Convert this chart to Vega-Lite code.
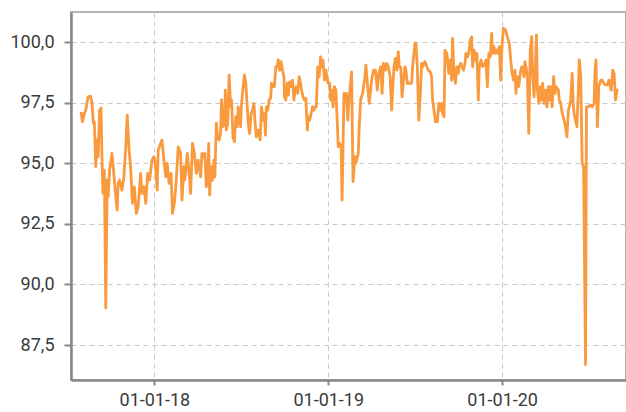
{
"$schema": "https://vega.github.io/schema/vega-lite/v6.json",
"width": 555,
"height": 368,
"autosize": {"type": "none"},
"padding": {"left": 71, "top": 12, "right": 0, "bottom": 32},
"background": "white",
"config": {
  "locale": {"number": {"decimal": ",", "thousands": ".", "grouping": [3], "currency": ["", " €"]}},
  "view": {"stroke": "#9a9a9a", "strokeWidth": 1.5},
  "axis": {
    "domainColor": "#878787", "domainWidth": 2.5,
    "tickColor": "#878787", "tickWidth": 2,
    "gridColor": "#c8c8c8", "gridDash": [5, 4], "gridWidth": 1,
    "labelFont": "Roboto", "labelFontSize": 18, "labelColor": "#3a3a3a",
    "title": null
  }
},
"data": {"values": [
{"date":"2017-07-31","value":97.12},{"date":"2017-08-03","value":96.71},{"date":"2017-08-07","value":97.06},{"date":"2017-08-10","value":97.19},
{"date":"2017-08-13","value":97.54},{"date":"2017-08-15","value":97.74},{"date":"2017-08-20","value":97.77},{"date":"2017-08-23","value":97.47},
{"date":"2017-08-26","value":96.65},{"date":"2017-08-28","value":96.71},{"date":"2017-08-31","value":94.86},{"date":"2017-09-03","value":95.96},
{"date":"2017-09-05","value":95.27},{"date":"2017-09-08","value":97.19},{"date":"2017-09-11","value":97.28},{"date":"2017-09-13","value":95.27},
{"date":"2017-09-15","value":93.77},{"date":"2017-09-18","value":94.72},{"date":"2017-09-21","value":89.03},{"date":"2017-09-24","value":94.31},
{"date":"2017-09-26","value":93.62},{"date":"2017-09-29","value":94.72},{"date":"2017-10-04","value":95.41},{"date":"2017-10-06","value":95.01},
{"date":"2017-10-09","value":94.31},{"date":"2017-10-12","value":93.62},{"date":"2017-10-15","value":93.07},{"date":"2017-10-17","value":94.17},
{"date":"2017-10-20","value":94.31},{"date":"2017-10-25","value":93.89},{"date":"2017-10-29","value":94.44},{"date":"2017-11-02","value":95.68},
{"date":"2017-11-05","value":96.99},{"date":"2017-11-09","value":95.54},{"date":"2017-11-12","value":94.86},{"date":"2017-11-16","value":93.35},
{"date":"2017-11-20","value":94.03},{"date":"2017-11-24","value":92.93},{"date":"2017-11-28","value":93.21},{"date":"2017-12-03","value":94.58},
{"date":"2017-12-06","value":93.76},{"date":"2017-12-10","value":94.03},{"date":"2017-12-14","value":93.35},{"date":"2017-12-18","value":94.58},
{"date":"2017-12-22","value":94.31},{"date":"2017-12-27","value":95.13},{"date":"2017-12-31","value":95.27},{"date":"2018-01-03","value":95.0},
{"date":"2018-01-07","value":93.89},{"date":"2018-01-09","value":95.54},{"date":"2018-01-14","value":95.82},{"date":"2018-01-17","value":95.96},
{"date":"2018-01-21","value":95.13},{"date":"2018-01-25","value":94.44},{"date":"2018-01-28","value":95.0},{"date":"2018-02-01","value":94.17},
{"date":"2018-02-05","value":94.58},{"date":"2018-02-08","value":92.93},{"date":"2018-02-12","value":93.35},{"date":"2018-02-16","value":94.31},
{"date":"2018-02-20","value":95.68},{"date":"2018-02-25","value":95.41},{"date":"2018-02-28","value":93.48},{"date":"2018-03-04","value":94.86},
{"date":"2018-03-06","value":94.31},{"date":"2018-03-11","value":95.41},{"date":"2018-03-15","value":94.58},{"date":"2018-03-18","value":93.76},
{"date":"2018-03-22","value":95.82},{"date":"2018-03-26","value":95.41},{"date":"2018-03-30","value":94.58},{"date":"2018-04-03","value":95.13},
{"date":"2018-04-08","value":94.44},{"date":"2018-04-11","value":95.41},{"date":"2018-04-15","value":95.27},{"date":"2018-04-17","value":95.41},
{"date":"2018-04-20","value":94.03},{"date":"2018-04-23","value":94.44},{"date":"2018-04-25","value":95.82},{"date":"2018-04-27","value":93.69},
{"date":"2018-04-30","value":94.86},{"date":"2018-05-03","value":94.31},{"date":"2018-05-06","value":95.13},{"date":"2018-05-08","value":94.44},
{"date":"2018-05-11","value":96.65},{"date":"2018-05-14","value":96.09},{"date":"2018-05-17","value":95.96},{"date":"2018-05-20","value":96.23},
{"date":"2018-05-22","value":97.61},{"date":"2018-05-25","value":96.51},{"date":"2018-05-28","value":96.65},{"date":"2018-05-30","value":98.02},
{"date":"2018-06-01","value":96.37},{"date":"2018-06-04","value":96.65},{"date":"2018-06-07","value":98.64},{"date":"2018-06-10","value":97.33},
{"date":"2018-06-12","value":97.61},{"date":"2018-06-15","value":96.09},{"date":"2018-06-18","value":95.89},{"date":"2018-06-21","value":96.92},
{"date":"2018-06-24","value":96.51},{"date":"2018-06-26","value":97.33},{"date":"2018-07-01","value":96.51},{"date":"2018-07-03","value":97.47},
{"date":"2018-07-06","value":98.09},{"date":"2018-07-09","value":98.64},{"date":"2018-07-12","value":98.30},{"date":"2018-07-15","value":97.33},
{"date":"2018-07-17","value":96.65},{"date":"2018-07-20","value":96.23},{"date":"2018-07-23","value":97.06},{"date":"2018-07-26","value":97.19},
{"date":"2018-07-29","value":97.47},{"date":"2018-07-31","value":96.78},{"date":"2018-08-03","value":96.09},{"date":"2018-08-07","value":96.37},
{"date":"2018-08-11","value":95.96},{"date":"2018-08-14","value":97.33},{"date":"2018-08-17","value":96.78},{"date":"2018-08-20","value":97.06},
{"date":"2018-08-22","value":96.16},{"date":"2018-08-24","value":97.33},{"date":"2018-08-27","value":97.19},{"date":"2018-08-30","value":97.61},
{"date":"2018-09-02","value":97.68},{"date":"2018-09-04","value":98.30},{"date":"2018-09-07","value":98.16},{"date":"2018-09-10","value":98.16},
{"date":"2018-09-13","value":98.98},{"date":"2018-09-16","value":98.98},{"date":"2018-09-18","value":99.26},{"date":"2018-09-21","value":98.84},
{"date":"2018-09-24","value":99.19},{"date":"2018-09-27","value":98.84},{"date":"2018-09-30","value":98.57},{"date":"2018-10-01","value":97.74},
{"date":"2018-10-04","value":97.61},{"date":"2018-10-07","value":98.30},{"date":"2018-10-09","value":97.81},{"date":"2018-10-12","value":98.36},
{"date":"2018-10-15","value":98.16},{"date":"2018-10-18","value":98.43},{"date":"2018-10-21","value":97.61},{"date":"2018-10-23","value":97.95},
{"date":"2018-10-26","value":98.16},{"date":"2018-10-29","value":97.88},{"date":"2018-11-01","value":98.57},{"date":"2018-11-04","value":98.30},
{"date":"2018-11-06","value":98.02},{"date":"2018-11-09","value":97.74},{"date":"2018-11-12","value":97.61},{"date":"2018-11-15","value":97.68},
{"date":"2018-11-18","value":96.37},{"date":"2018-11-20","value":96.92},{"date":"2018-11-23","value":96.78},{"date":"2018-11-26","value":97.06},
{"date":"2018-11-29","value":97.33},{"date":"2018-12-02","value":97.19},{"date":"2018-12-04","value":97.33},{"date":"2018-12-07","value":97.33},
{"date":"2018-12-10","value":98.98},{"date":"2018-12-13","value":98.57},{"date":"2018-12-16","value":99.39},{"date":"2018-12-18","value":98.98},
{"date":"2018-12-21","value":99.26},{"date":"2018-12-24","value":98.43},{"date":"2018-12-27","value":98.84},{"date":"2018-12-30","value":98.43},
{"date":"2019-01-01","value":98.30},{"date":"2019-01-04","value":98.30},{"date":"2019-01-06","value":97.61},{"date":"2019-01-08","value":98.02},
{"date":"2019-01-11","value":97.33},{"date":"2019-01-14","value":98.16},{"date":"2019-01-17","value":98.02},{"date":"2019-01-20","value":96.65},
{"date":"2019-01-22","value":95.68},{"date":"2019-01-25","value":95.82},{"date":"2019-01-28","value":95.68},{"date":"2019-01-30","value":93.48},
{"date":"2019-02-01","value":95.68},{"date":"2019-02-03","value":97.88},{"date":"2019-02-05","value":97.61},{"date":"2019-02-08","value":97.88},
{"date":"2019-02-11","value":96.78},{"date":"2019-02-14","value":97.74},{"date":"2019-02-19","value":98.77},{"date":"2019-02-22","value":94.24},
{"date":"2019-02-26","value":95.27},{"date":"2019-02-28","value":95.0},{"date":"2019-03-05","value":95.41},{"date":"2019-03-07","value":96.51},
{"date":"2019-03-10","value":97.61},{"date":"2019-03-14","value":97.88},{"date":"2019-03-19","value":98.57},{"date":"2019-03-21","value":99.05},
{"date":"2019-03-26","value":97.88},{"date":"2019-03-28","value":97.47},{"date":"2019-04-02","value":98.43},{"date":"2019-04-06","value":98.84},
{"date":"2019-04-10","value":98.84},{"date":"2019-04-14","value":98.02},{"date":"2019-04-17","value":98.71},{"date":"2019-04-21","value":98.98},
{"date":"2019-04-24","value":97.88},{"date":"2019-04-27","value":99.12},{"date":"2019-05-01","value":98.84},{"date":"2019-05-04","value":99.12},
{"date":"2019-05-07","value":98.98},{"date":"2019-05-11","value":98.57},{"date":"2019-05-14","value":97.19},{"date":"2019-05-16","value":98.02},
{"date":"2019-05-19","value":98.98},{"date":"2019-05-22","value":99.33},{"date":"2019-05-25","value":98.84},{"date":"2019-05-28","value":99.60},
{"date":"2019-05-30","value":98.98},{"date":"2019-06-02","value":98.98},{"date":"2019-06-05","value":97.74},{"date":"2019-06-08","value":98.43},
{"date":"2019-06-11","value":98.98},{"date":"2019-06-13","value":98.84},{"date":"2019-06-16","value":98.30},{"date":"2019-06-20","value":98.30},
{"date":"2019-06-25","value":98.30},{"date":"2019-06-27","value":98.98},{"date":"2019-07-02","value":99.95},{"date":"2019-07-04","value":99.95},
{"date":"2019-07-07","value":98.98},{"date":"2019-07-10","value":96.78},{"date":"2019-07-13","value":97.74},{"date":"2019-07-16","value":99.12},
{"date":"2019-07-18","value":98.98},{"date":"2019-07-23","value":99.19},{"date":"2019-07-27","value":98.98},{"date":"2019-07-30","value":98.84},
{"date":"2019-08-03","value":98.77},{"date":"2019-08-06","value":98.57},{"date":"2019-08-08","value":97.61},{"date":"2019-08-11","value":97.19},
{"date":"2019-08-14","value":96.71},{"date":"2019-08-18","value":96.71},{"date":"2019-08-21","value":97.47},{"date":"2019-08-24","value":97.19},
{"date":"2019-08-27","value":97.47},{"date":"2019-08-29","value":97.06},{"date":"2019-09-01","value":96.92},{"date":"2019-09-03","value":99.67},
{"date":"2019-09-07","value":99.53},{"date":"2019-09-11","value":98.71},{"date":"2019-09-14","value":99.26},{"date":"2019-09-17","value":98.43},
{"date":"2019-09-19","value":100.15},{"date":"2019-09-22","value":98.71},{"date":"2019-09-25","value":98.30},{"date":"2019-09-28","value":98.98},
{"date":"2019-10-01","value":98.71},{"date":"2019-10-03","value":98.98},{"date":"2019-10-06","value":99.12},{"date":"2019-10-09","value":98.98},
{"date":"2019-10-12","value":98.84},{"date":"2019-10-15","value":99.12},{"date":"2019-10-17","value":99.53},{"date":"2019-10-20","value":99.39},
{"date":"2019-10-23","value":99.53},{"date":"2019-10-26","value":100.08},{"date":"2019-10-29","value":100.22},{"date":"2019-10-31","value":98.98},
{"date":"2019-11-03","value":99.67},{"date":"2019-11-06","value":99.26},{"date":"2019-11-09","value":99.53},{"date":"2019-11-12","value":97.61},
{"date":"2019-11-14","value":98.98},{"date":"2019-11-18","value":99.26},{"date":"2019-11-21","value":98.98},{"date":"2019-11-26","value":99.12},
{"date":"2019-11-28","value":99.26},{"date":"2019-12-01","value":98.16},{"date":"2019-12-04","value":99.53},{"date":"2019-12-07","value":99.39},
{"date":"2019-12-10","value":100.36},{"date":"2019-12-12","value":99.53},{"date":"2019-12-15","value":99.81},{"date":"2019-12-18","value":99.53},
{"date":"2019-12-21","value":99.67},{"date":"2019-12-24","value":99.53},{"date":"2019-12-26","value":99.81},{"date":"2019-12-29","value":98.43},
{"date":"2020-01-01","value":99.95},{"date":"2020-01-04","value":100.57},{"date":"2020-01-08","value":100.50},{"date":"2020-01-12","value":100.22},
{"date":"2020-01-16","value":99.95},{"date":"2020-01-19","value":99.26},{"date":"2020-01-22","value":98.71},{"date":"2020-01-25","value":98.43},
{"date":"2020-01-28","value":98.84},{"date":"2020-01-30","value":97.88},{"date":"2020-02-02","value":98.57},{"date":"2020-02-05","value":98.16},
{"date":"2020-02-08","value":98.71},{"date":"2020-02-11","value":98.98},{"date":"2020-02-13","value":98.98},{"date":"2020-02-16","value":98.57},
{"date":"2020-02-18","value":99.19},{"date":"2020-02-20","value":98.98},{"date":"2020-02-23","value":98.57},{"date":"2020-02-26","value":96.23},
{"date":"2020-02-29","value":99.67},{"date":"2020-03-03","value":100.22},{"date":"2020-03-05","value":98.71},{"date":"2020-03-08","value":97.74},
{"date":"2020-03-11","value":99.12},{"date":"2020-03-13","value":100.29},{"date":"2020-03-15","value":98.02},{"date":"2020-03-18","value":97.47},
{"date":"2020-03-21","value":98.16},{"date":"2020-03-24","value":97.61},{"date":"2020-03-26","value":98.30},{"date":"2020-03-29","value":97.47},
{"date":"2020-04-01","value":98.02},{"date":"2020-04-04","value":97.33},{"date":"2020-04-07","value":98.16},{"date":"2020-04-09","value":97.61},
{"date":"2020-04-12","value":98.16},{"date":"2020-04-15","value":97.33},{"date":"2020-04-18","value":98.57},{"date":"2020-04-21","value":97.88},
{"date":"2020-04-23","value":98.16},{"date":"2020-04-28","value":98.02},{"date":"2020-04-30","value":97.61},{"date":"2020-05-03","value":97.47},
{"date":"2020-05-06","value":97.06},{"date":"2020-05-10","value":96.78},{"date":"2020-05-13","value":96.51},{"date":"2020-05-16","value":96.09},
{"date":"2020-05-19","value":97.19},{"date":"2020-05-21","value":97.33},{"date":"2020-05-24","value":97.61},{"date":"2020-05-27","value":98.71},
{"date":"2020-05-29","value":97.47},{"date":"2020-05-31","value":97.06},{"date":"2020-06-03","value":96.78},{"date":"2020-06-06","value":96.51},
{"date":"2020-06-09","value":98.02},{"date":"2020-06-11","value":99.26},{"date":"2020-06-14","value":98.57},{"date":"2020-06-17","value":95.0},
{"date":"2020-06-20","value":94.86},{"date":"2020-06-24","value":86.70},{"date":"2020-06-26","value":97.33},{"date":"2020-06-30","value":97.33},
{"date":"2020-07-04","value":97.40},{"date":"2020-07-08","value":97.33},{"date":"2020-07-12","value":97.47},{"date":"2020-07-14","value":98.84},
{"date":"2020-07-16","value":99.26},{"date":"2020-07-19","value":96.51},{"date":"2020-07-22","value":98.16},{"date":"2020-07-26","value":98.43},
{"date":"2020-07-29","value":98.43},{"date":"2020-08-01","value":98.30},{"date":"2020-08-05","value":98.23},{"date":"2020-08-09","value":98.23},
{"date":"2020-08-12","value":98.43},{"date":"2020-08-15","value":98.16},{"date":"2020-08-17","value":98.02},{"date":"2020-08-20","value":98.84},
{"date":"2020-08-23","value":98.71},{"date":"2020-08-26","value":97.61},{"date":"2020-08-29","value":98.02},{"date":"2020-09-01","value":98.02}
]},
"mark": {"type": "line", "color": "#f99a3e", "strokeWidth": 2.8, "strokeJoin": "round", "clip": true},
"encoding": {
  "x": {
    "field": "date", "type": "temporal",
    "scale": {"domain": ["2017-07-10", "2020-09-17"]},
    "axis": {"format": "%d-%m-%y", "tickCount": {"interval": "year", "step": 1}, "tickSize": 5, "labelPadding": 6, "grid": true}
  },
  "y": {
    "field": "value", "type": "quantitative",
    "scale": {"domain": [86.06, 101.24], "nice": false, "zero": false},
    "axis": {"values": [87.5, 90, 92.5, 95, 97.5, 100], "format": ".1f", "tickSize": 7, "labelPadding": 10, "grid": true}
  }
}
}
